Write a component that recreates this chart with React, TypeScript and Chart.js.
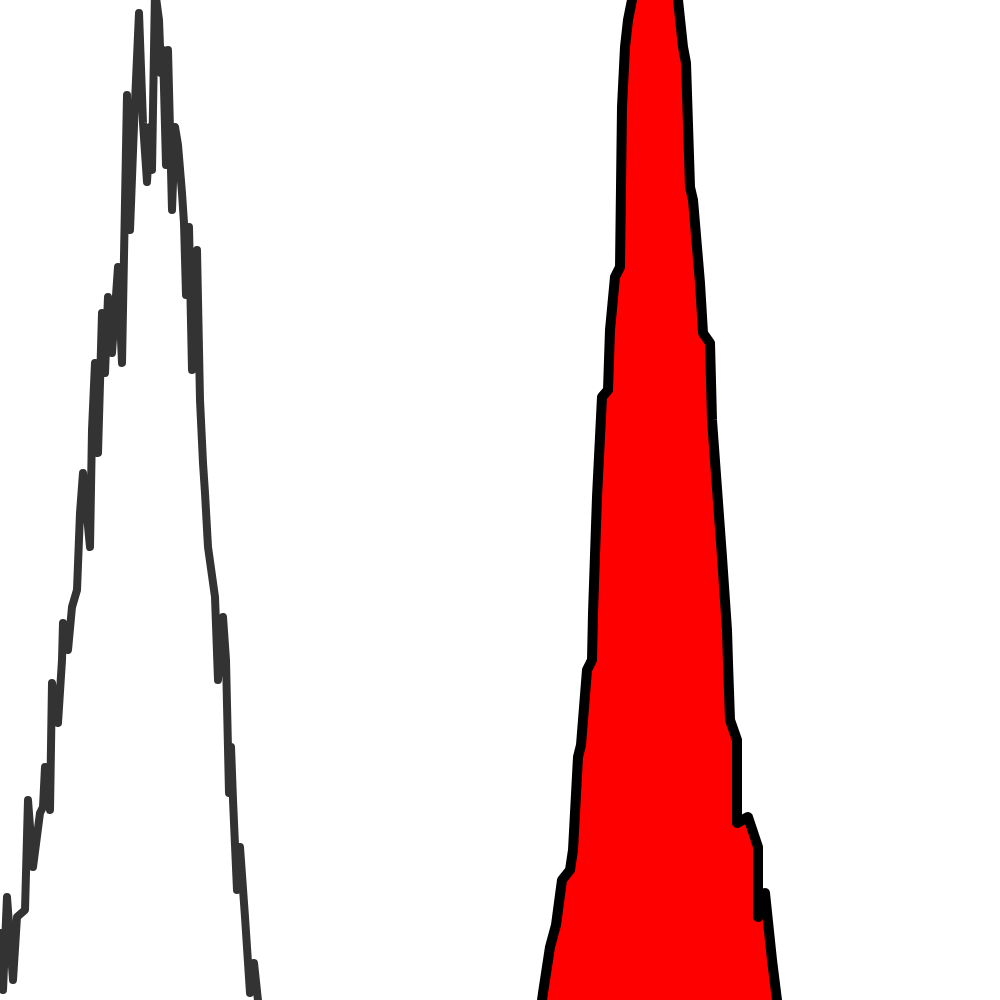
import React, { useEffect, useRef } from "react";
import { Chart, registerables } from "chart.js";

Chart.register(...registerables);

// Control sample (gray outline) — channel vs. count
const controlX = [-5, 0, 3, 7, 13, 17, 25, 28, 33, 40, 43, 45, 50, 52, 58, 62, 63, 68, 72, 77, 80, 83, 90, 92, 95, 98, 102, 105, 108, 112, 118, 122, 127, 130, 134, 139, 143, 147, 150, 152, 155, 159, 161, 163, 166, 168, 172, 175, 178, 182, 184, 186, 189, 192, 197, 200, 203, 205, 208, 215, 218, 223, 226, 229, 231, 233, 237, 240, 245, 250, 254, 259, 262];
const controlY = [40, 67, 10, 103, 20, 83, 90, 200, 133, 187, 193, 233, 190, 317, 277, 340, 377, 350, 393, 410, 487, 527, 453, 570, 637, 547, 687, 627, 703, 647, 733, 637, 905, 770, 875, 987, 877, 818, 873, 830, 1010, 980, 927, 950, 835, 950, 790, 873, 855, 807, 777, 705, 773, 630, 750, 600, 537, 507, 453, 403, 320, 383, 340, 207, 253, 200, 110, 153, 83, 7, 37, -10, -40];

// Stained sample (red filled) — channel vs. count
const stainedX = [538, 543, 550, 556, 562, 570, 573, 578, 581, 587, 592, 593, 597, 602, 608, 610, 615, 620, 622, 625, 628, 632, 636, 655, 674, 678, 683, 686, 690, 693, 700, 703, 710, 712, 722, 727, 728, 730, 737, 737, 748, 758, 758, 765, 772, 777, 781];
const stainedY = [-30, 7, 53, 75, 120, 130, 150, 243, 255, 330, 340, 387, 503, 603, 610, 670, 723, 733, 893, 953, 980, 1000, 1060, 1200, 1060, 1000, 953, 937, 813, 800, 717, 667, 657, 580, 443, 370, 337, 280, 260, 177, 183, 153, 83, 107, 40, 0, -30];

const toPoints = (xs: number[], ys: number[]) => xs.map((x, i) => ({ x, y: ys[i] }));

export default function App() {
  const canvasRef = useRef<HTMLCanvasElement | null>(null);

  useEffect(() => {
    if (!canvasRef.current) return;
    const chart = new Chart(canvasRef.current, {
      type: "line",
      data: {
        datasets: [
          {
            label: "Control",
            data: toPoints(controlX, controlY),
            borderColor: "#333333",
            borderWidth: 8,
            borderJoinStyle: "round",
            borderCapStyle: "round",
            pointRadius: 0,
            tension: 0,
            fill: false,
          },
          {
            label: "Stained",
            data: toPoints(stainedX, stainedY),
            borderColor: "#000000",
            backgroundColor: "#ff0000",
            borderWidth: 10,
            borderJoinStyle: "round",
            borderCapStyle: "round",
            pointRadius: 0,
            tension: 0,
            fill: "origin",
          },
        ],
      },
      options: {
        animation: false,
        responsive: true,
        maintainAspectRatio: false,
        devicePixelRatio: 1,
        layout: { padding: 0 },
        plugins: {
          legend: { display: false },
          tooltip: { enabled: false },
          title: { display: false },
        },
        scales: {
          x: { type: "linear", min: 0, max: 1000, display: false },
          y: { type: "linear", min: 0, max: 1000, display: false },
        },
      },
    });
    return () => chart.destroy();
  }, []);

  return (
    <div
      style={{
        position: "fixed",
        left: 0,
        top: 0,
        width: "1000px",
        height: "1000px",
        background: "#ffffff",
      }}
    >
      <canvas ref={canvasRef} />
    </div>
  );
}
